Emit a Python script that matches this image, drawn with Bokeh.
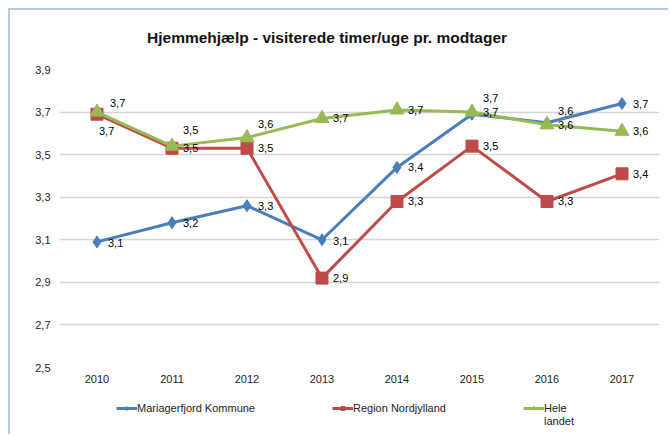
from bokeh.plotting import figure
from bokeh.layouts import column
from bokeh.models import (FactorRange, FixedTicker, Legend, LegendItem,
                          ColumnDataSource, Label)
from bokeh.core.properties import value
from bokeh.embed import file_html
from bokeh.resources import INLINE

# ---------------- data ----------------
years = ["2010", "2011", "2012", "2013", "2014", "2015", "2016", "2017"]
mariagerfjord = [3.09, 3.18, 3.26, 3.10, 3.44, 3.69, 3.65, 3.74]
region_nord = [3.69, 3.53, 3.53, 2.92, 3.28, 3.54, 3.28, 3.41]
hele_landet = [3.70, 3.54, 3.58, 3.67, 3.71, 3.70, 3.64, 3.61]
y_ticks = [2.5, 2.7, 2.9, 3.1, 3.3, 3.5, 3.7, 3.9]
series_names = ["Mariagerfjord Kommune", "Region Nordjylland", "Hele", "landet"]
title_text = "Hjemmehjælp -  visiterede timer/uge pr. modtager"

# ---------------- styles ----------------
colors = ["#4a7ebb", "#be4b48", "#98b954"]
markers = ["diamond", "square", "triangle"]
marker_sizes = [12, 12, 14]
# label offsets (screen px) per series / point
lab_dx = [
    [11, 11, 11, 11, 11, 11, 11, 11],
    [2, 11, 11, 11, 11, 11, 11, 11],
    [13, 11, 11, 11, 11, 11, 11, 11],
]
lab_dy = [
    [1, 0, 0, 1, 0, -16, -12, 0],
    [17, 0, 0, 0, 0, 0, 0, 0],
    [-9, -16, -14, 0, 0, 0, 0, 0],
]

FONT = "Liberation Sans"

# ---------------- title strip ----------------
p0 = figure(width=658, height=49, x_range=(0, 658), y_range=(0, 49),
            output_backend="svg", toolbar_location=None, min_border=0)
p0.axis.visible = False
p0.grid.visible = False
p0.outline_line_color = None
p0.border_fill_color = "white"
p0.add_layout(Label(x=96, y=22, text=title_text, text_font=FONT,
                    text_font_size="15.5px", text_font_style="bold",
                    text_color="#111111", text_align="left",
                    text_baseline="middle"))

# ---------------- main chart ----------------
p = figure(x_range=FactorRange(*years), y_range=(2.5, 3.9),
           width=658, height=336, output_backend="svg", toolbar_location=None,
           min_border_left=49, min_border_right=9, min_border_top=10,
           min_border_bottom=28)
p.outline_line_color = None
p.background_fill_color = "white"
p.border_fill_color = "white"

p.xgrid.grid_line_color = None
p.ygrid.grid_line_color = "#d4d4d4"
p.ygrid.grid_line_width = 1.5
p.yaxis.ticker = FixedTicker(ticks=y_ticks)
p.yaxis.major_label_overrides = {t: f"{t:.1f}".replace(".", ",") for t in y_ticks}
for ax in (p.xaxis, p.yaxis):
    ax.axis_line_color = None
    ax.major_tick_line_color = None
    ax.minor_tick_line_color = None
    ax.major_tick_out = 0
    ax.major_tick_in = 0
    ax.major_label_text_font = FONT
    ax.major_label_text_font_size = "11px"
    ax.major_label_text_color = "#222222"
p.yaxis.major_label_standoff = 9
p.xaxis.major_label_standoff = 7

all_series = [mariagerfjord, region_nord, hele_landet]
for i, vals in enumerate(all_series):
    src = ColumnDataSource(dict(x=years, y=vals))
    p.line("x", "y", source=src, line_color=colors[i], line_width=3)
    p.scatter("x", "y", source=src, marker=markers[i], size=marker_sizes[i],
              fill_color=colors[i], line_color=colors[i])

for i, vals in enumerate(all_series):
    src = ColumnDataSource(dict(
        x=years, y=vals,
        lab=[f"{v:.1f}".replace(".", ",") for v in vals],
        dx=lab_dx[i], dy=lab_dy[i]))
    p.text("x", "y", text="lab", source=src, x_offset="dx", y_offset="dy",
           text_font=value(FONT), text_font_size="11px",
           text_color="#000000", text_align="left", text_baseline="middle")

# ---------------- legend strip ----------------
# the legend strip's y range (0..1) lies below every value, so its
# renderers show only as legend samples
p2 = figure(width=658, height=39, x_range=(0, 1), y_range=(0, 1),
            output_backend="svg", toolbar_location=None, min_border=0)
p2.axis.visible = False
p2.grid.visible = False
p2.outline_line_color = None
p2.border_fill_color = "white"

leg_renderers = []
for i, vals in enumerate(all_series):
    ln = p2.line(x=[0, 1], y=vals[:2], line_color=colors[i], line_width=3)
    sc = p2.scatter(x=[0], y=vals[:1], marker=markers[i], size=7,
                    fill_color=colors[i], line_color=colors[i])
    leg_renderers.append([ln, sc])
ghost = p2.line(x=[0, 1], y=hele_landet[:2], line_alpha=0)

leg_common = dict(orientation="horizontal", padding=0, margin=0,
                  label_standoff=0, glyph_width=21, glyph_height=10,
                  border_line_color=None, background_fill_alpha=0,
                  label_text_font=FONT, label_text_font_size="11px",
                  label_text_color="#222222", label_height=13)
legend1 = Legend(items=[LegendItem(label=series_names[i], renderers=leg_renderers[i])
                        for i in range(3)],
                 location=(57, 20), spacing=77, **leg_common)
legend2 = Legend(items=[LegendItem(label=series_names[3], renderers=[ghost])],
                 location=(464, 7), spacing=0, **leg_common)
p2.add_layout(legend1, "center")
p2.add_layout(legend2, "center")

lay = column(p0, p, p2, spacing=0)
lay.styles = {"margin-left": "8px", "margin-top": "8px",
              "border-left": "2px solid #b9c9dc", "border-top": "2px solid #b9c9dc"}

open("out.html", "w").write(file_html(lay, INLINE))
